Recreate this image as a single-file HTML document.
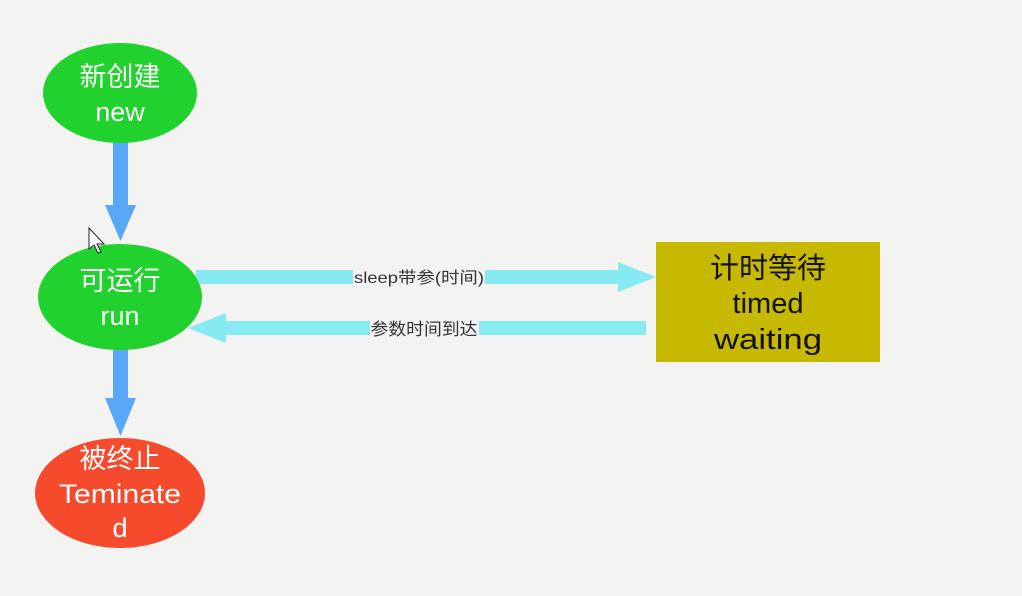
<!DOCTYPE html>
<html><head><meta charset="utf-8"><style>
html,body{margin:0;padding:0;width:1022px;height:596px;overflow:hidden;background:#f3f3f2;}
svg{display:block}
text{font-family:"Liberation Sans","Noto Sans CJK SC",sans-serif;}
</style></head><body>
<svg width="1022" height="596" viewBox="0 0 1022 596">
<rect width="1022" height="596" fill="#f3f3f2"/>
<rect x="113" y="142" width="15" height="66" fill="#59a8f7"/>
<polygon points="105,205 136,205 120.5,241" fill="#59a8f7"/>
<rect x="113" y="348" width="15" height="52" fill="#59a8f7"/>
<polygon points="105,398 136,398 120.5,436" fill="#59a8f7"/>
<rect x="196" y="270" width="426" height="14" fill="#87eaf3"/>
<polygon points="618,262 656,277 618,292" fill="#87eaf3"/>
<rect x="224" y="321" width="422" height="14" fill="#87eaf3"/>
<polygon points="226,313 188,328 226,343" fill="#87eaf3"/>
<rect x="353" y="268" width="132" height="18" fill="#f3f3f2"/>
<text x="419" y="283" font-size="16" fill="#333" text-anchor="middle" textLength="130" lengthAdjust="spacingAndGlyphs">sleep带参(时间)</text>
<rect x="370" y="319" width="109" height="18" fill="#f3f3f2"/>
<text x="424" y="335" font-size="17" fill="#333" text-anchor="middle" textLength="107" lengthAdjust="spacingAndGlyphs">参数时间到达</text>
<ellipse cx="120" cy="93" rx="77" ry="50" fill="#21d22e"/>
<text x="120" y="86" font-size="27" fill="#fff" text-anchor="middle">新创建</text>
<text x="120" y="121" font-size="27" fill="#fff" text-anchor="middle">new</text>
<ellipse cx="120" cy="297" rx="82" ry="53" fill="#21d22e"/>
<text x="120" y="290" font-size="27" fill="#fff" text-anchor="middle">可运行</text>
<text x="120" y="325" font-size="27" fill="#fff" text-anchor="middle">run</text>
<ellipse cx="120" cy="493" rx="85" ry="55" fill="#f54a2b"/>
<text x="120" y="468" font-size="27" fill="#fff" text-anchor="middle">被终止</text>
<text x="120" y="503" font-size="27" fill="#fff" text-anchor="middle" textLength="122" lengthAdjust="spacingAndGlyphs">Teminate</text>
<text x="120" y="537" font-size="27" fill="#fff" text-anchor="middle">d</text>
<rect x="656" y="242" width="224" height="120" fill="#c7b900"/>
<text x="768" y="278" font-size="29" fill="#111" text-anchor="middle">计时等待</text>
<text x="768" y="313" font-size="29" fill="#111" text-anchor="middle">timed</text>
<text x="768" y="349" font-size="29" fill="#111" text-anchor="middle" textLength="108" lengthAdjust="spacingAndGlyphs">waiting</text>
<polygon points="89,228 89,249 94,245 98,253 101,252 97,244 104,244" fill="#fff" stroke="#222" stroke-width="1"/>
</svg>
</body></html>
